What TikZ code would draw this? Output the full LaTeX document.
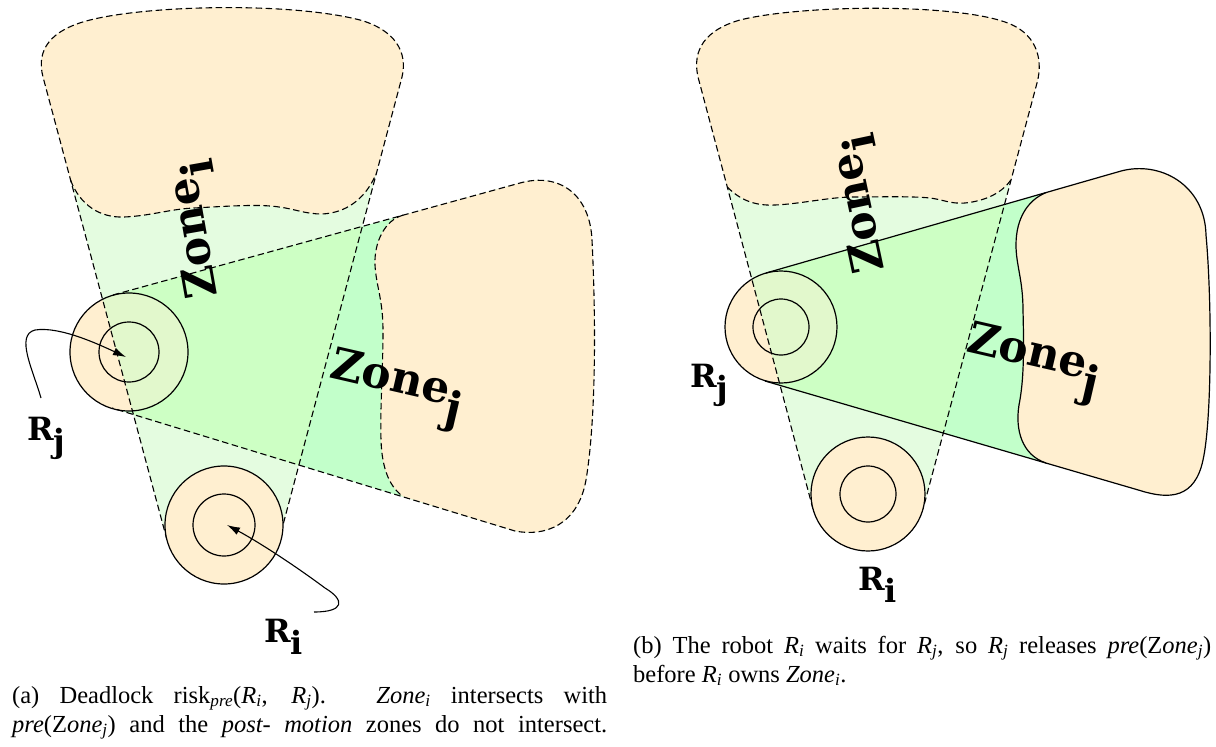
\documentclass[tikz,border=0pt]{standalone}
\usepackage{fontspec}
\setmainfont{Liberation Serif}
\newfontfamily\lblfont{DejaVu Serif}
\usetikzlibrary{arrows.meta}
\definecolor{OR}{RGB}{255,239,208}
\definecolor{LG}{RGB}{228,252,224}
\definecolor{MG}{RGB}{205,255,196}
\definecolor{BG}{RGB}{194,255,202}
\definecolor{TN}{RGB}{226,248,204}
\newcommand\Sub[1]{\textsubscript{#1}}
\newcommand\LSub[1]{\raisebox{-0.4em}{#1}}
% left panel paths
\def\ZiL{(167,540) -- (43,77) .. controls (36,50) and (50,30) .. (90,20) .. controls (150,5) and (290,2) .. (360,20) .. controls (395,30) and (408,52) .. (402,77) -- (279,540)}
\def\ZiLblob{(70.5,180) .. controls (80,205) and (100,218) .. (124,217) .. controls (150,216) and (170,209) .. (194,208) .. controls (230,206) and (260,204) .. (279,207) .. controls (295,209) and (305,214) .. (322,214) .. controls (345,213) and (365,200) .. (376,174)}
\def\ZjL{(113,295) -- (520,183) .. controls (560,172) and (590,195) .. (592,240) .. controls (596,320) and (596,420) .. (586,480) .. controls (578,525) and (545,537) .. (515,531) -- (112,408)}
\def\ZjLwave{(403,215.2) .. controls (385,220) and (374,242) .. (375,265) .. controls (376,285) and (383,300) .. (383,330) .. controls (383,370) and (380,410) .. (381,440) .. controls (382,470) and (390,487) .. (403,496.5)}
% right panel paths
\def\ZiR{(813,509) -- (698,77) .. controls (692,50) and (705,30) .. (740,20) .. controls (800,5) and (950,3) .. (1005,22) .. controls (1035,32) and (1044,57) .. (1037,83) -- (923,509)}
\def\ZiRblob{(727.3,187) .. controls (740,200) and (755,206) .. (775,205) .. controls (800,204) and (830,197) .. (853,197) .. controls (880,197) and (910,196) .. (930,198) .. controls (945,200) and (950,204) .. (965,203) .. controls (985,201) and (1002,193) .. (1010.8,180)}
\def\ZjR{(766,273) -- (1120,171.3) .. controls (1160,160) and (1205,185) .. (1206,235) .. controls (1212,300) and (1212,420) .. (1203,460) .. controls (1195,498) and (1170,500) .. (1140,490.5) -- (765,381)}
\def\ZjRwave{(1046,192.6) .. controls (1028,200) and (1016,218) .. (1016,245) .. controls (1016,265) and (1023,280) .. (1023,310) .. controls (1024,350) and (1024,380) .. (1019,405) .. controls (1015,430) and (1022,455) .. (1046,463)}
\begin{document}
\begin{tikzpicture}[x=1pt,y=-1pt,
  dz/.style={dash pattern=on 6.5pt off 3.5pt, line width=1.1pt},
  sz/.style={line width=1.2pt},
  rob/.style={line width=1.2pt},
  zl/.style={font=\lblfont\bfseries\fontsize{44}{44}\selectfont, inner sep=0pt},
  rl/.style={font=\lblfont\bfseries\fontsize{32}{32}\selectfont, inner sep=0pt},
  captxt/.style={font=\fontsize{24.5}{29}\selectfont, inner sep=0pt, anchor=base west},
  arr/.style={line width=1.1pt, -{Latex[length=13pt,width=8pt]}}]
\useasboundingbox (0,0) rectangle (1216,747);
\fill[white] (0,0) rectangle (1216,747);
% ---------- left panel ----------
\coordinate (RjcL) at (129,352);
\coordinate (RicL) at (224,525);
\fill[LG] \ZiL -- cycle;
\fill[BG] \ZjL -- cycle;
\begin{scope}\clip \ZjL -- cycle; \fill[MG] \ZiL -- cycle;\end{scope}
\fill[OR] \ZiLblob -- (402,77) .. controls (408,52) and (395,30) .. (360,20) .. controls (290,2) and (150,5) .. (90,20) .. controls (50,30) and (36,50) .. (43,77) -- cycle;
\fill[OR] \ZjLwave -- (515,531) .. controls (545,537) and (578,525) .. (586,480) .. controls (596,420) and (596,320) .. (592,240) .. controls (590,195) and (560,172) .. (520,183) -- cycle;
\fill[OR] (RjcL) circle[radius=59];
\begin{scope}\clip \ZiL -- cycle; \fill[TN] (RjcL) circle[radius=59];\end{scope}
\draw[dz] \ZiL;
\draw[dz] \ZiLblob;
\draw[dz] \ZjL;
\draw[dz] \ZjLwave;
\draw[rob] (RjcL) circle[radius=59];
\draw[rob] (RjcL) circle[radius=30];
\fill[OR] (RicL) circle[radius=59];
\draw[rob] (RicL) circle[radius=59];
\draw[rob] (RicL) circle[radius=31];
\node[zl, rotate=100, anchor=base west] (ZiLlab) at (218,296) {Zone\LSub{i}};
\node[zl, rotate=-13, anchor=base west] (ZjLlab) at (328,377) {Zone\LSub{j}};
\node[rl, anchor=base west] (RjLlab) at (27,440) {R\LSub{j}};
\node[rl, anchor=base west] (RiLlab) at (264,642) {R\LSub{i}};
\coordinate (RjS) at (41,398);
\coordinate (RjT) at (126,357);
\coordinate (RiS) at (314,612);
\coordinate (RiT) at (227,525);
\draw[arr] (RjS) .. controls (33,370) and (15,335) .. (35,330) .. controls (60,326) and (100,345) .. (RjT);
\draw[arr] (RiS) .. controls (345,612) and (345,600) .. (325,588) .. controls (290,562) and (255,540) .. (RiT);
% ---------- right panel ----------
\coordinate (RjcR) at (781,327);
\coordinate (RicR) at (868,494);
\fill[LG] \ZiR -- cycle;
\fill[BG] \ZjR -- cycle;
\begin{scope}\clip \ZjR -- cycle; \fill[MG] \ZiR -- cycle;\end{scope}
\fill[OR] \ZiRblob -- (1037,83) .. controls (1044,57) and (1035,32) .. (1005,22) .. controls (950,3) and (800,5) .. (740,20) .. controls (705,30) and (692,50) .. (698,77) -- cycle;
\fill[OR] \ZjRwave -- (1140,490.5) .. controls (1170,500) and (1195,498) .. (1203,460) .. controls (1212,420) and (1212,300) .. (1206,235) .. controls (1205,185) and (1160,160) .. (1120,171.3) -- cycle;
\fill[OR] (RjcR) circle[radius=56];
\begin{scope}\clip \ZiR -- cycle; \fill[TN] (RjcR) circle[radius=56];\end{scope}
\draw[dz] \ZiR;
\draw[dz] \ZiRblob;
\draw[sz] \ZjR;
\draw[sz] \ZjRwave;
\draw[rob] (RjcR) circle[radius=56];
\draw[rob] (RjcR) circle[radius=28];
\fill[OR] (RicR) circle[radius=57];
\draw[rob] (RicR) circle[radius=57];
\draw[rob] (RicR) circle[radius=28];
\node[zl, rotate=102, anchor=base west] (ZiRlab) at (885,270) {Zone\LSub{i}};
\node[zl, rotate=-13, anchor=base west] (ZjRlab) at (965,351) {Zone\LSub{j}};
\node[rl, anchor=base west] (RjRlab) at (690,387) {R\LSub{j}};
\node[rl, anchor=base west] (RiRlab) at (858,590) {R\LSub{i}};
% ---------- captions ----------
\node[captxt] (capa1) at (12,703) {\makebox[595pt][s]{(a) Deadlock risk\Sub{\textit{pre}}(\textit{R}\Sub{\textit{i}}, \textit{R}\Sub{\textit{j}}). \textit{Zone}\Sub{\textit{i}} intersects with}};
\node[captxt] (capa2) at (12,732) {\makebox[595pt][s]{\textit{pre}(Z\textit{one}\Sub{\textit{j}}) and the \textit{post- motion} zones do not intersect.}};
\node[captxt] (capb1) at (633,653) {\makebox[578pt][s]{(b) The robot \textit{R}\Sub{\textit{i}} waits for \textit{R}\Sub{\textit{j}}, so \textit{R}\Sub{\textit{j}} releases \textit{pre}(Z\textit{one}\Sub{\textit{j}})}};
\node[captxt] (capb2) at (633,682) {before \textit{R}\Sub{\textit{i}} owns \textit{Zone}\Sub{\textit{i}}.};
\end{tikzpicture}
\end{document}
